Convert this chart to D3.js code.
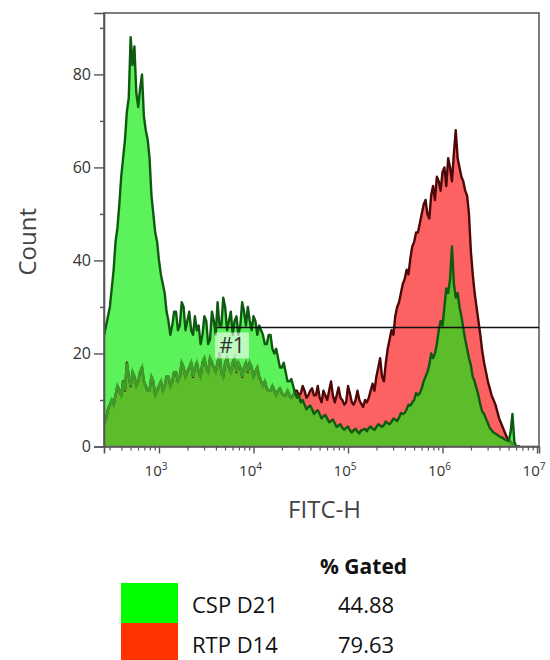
<!DOCTYPE html>
<html><head><meta charset="utf-8">
<script src="https://cdn.jsdelivr.net/npm/d3@7"></script>
<style>body{margin:0;background:#fff}svg{display:block}</style>
</head><body>
<svg id="c" width="550" height="660"></svg>
<script>
// channel positions (log10 of FITC-H), 0.02 decade apart
const logChannels = [
 2.42,2.44,2.46,2.48,2.50,2.52,2.54,2.56,2.58,2.60,
 2.62,2.64,2.66,2.68,2.70,2.72,2.74,2.76,2.78,2.80,
 2.82,2.84,2.86,2.88,2.90,2.92,2.94,2.96,2.98,3.00,
 3.02,3.04,3.06,3.08,3.10,3.12,3.14,3.16,3.18,3.20,
 3.22,3.24,3.26,3.28,3.30,3.32,3.34,3.36,3.38,3.40,
 3.42,3.44,3.46,3.48,3.50,3.52,3.54,3.56,3.58,3.60,
 3.62,3.64,3.66,3.68,3.70,3.72,3.74,3.76,3.78,3.80,
 3.82,3.84,3.86,3.88,3.90,3.92,3.94,3.96,3.98,4.00,
 4.02,4.04,4.06,4.08,4.10,4.12,4.14,4.16,4.18,4.20,
 4.22,4.24,4.26,4.28,4.30,4.32,4.34,4.36,4.38,4.40,
 4.42,4.44,4.46,4.48,4.50,4.52,4.54,4.56,4.58,4.60,
 4.62,4.64,4.66,4.68,4.70,4.72,4.74,4.76,4.78,4.80,
 4.82,4.84,4.86,4.88,4.90,4.92,4.94,4.96,4.98,5.00,
 5.02,5.04,5.06,5.08,5.10,5.12,5.14,5.16,5.18,5.20,
 5.22,5.24,5.26,5.28,5.30,5.32,5.34,5.36,5.38,5.40,
 5.42,5.44,5.46,5.48,5.50,5.52,5.54,5.56,5.58,5.60,
 5.62,5.64,5.66,5.68,5.70,5.72,5.74,5.76,5.78,5.80,
 5.82,5.84,5.86,5.88,5.90,5.92,5.94,5.96,5.98,6.00,
 6.02,6.04,6.06,6.08,6.10,6.12,6.14,6.16,6.18,6.20,
 6.22,6.24,6.26,6.28,6.30,6.32,6.34,6.36,6.38,6.40,
 6.42,6.44,6.46,6.48,6.50,6.52,6.54,6.56,6.58,6.60,
 6.62,6.64,6.66,6.68,6.70,6.72,6.74,6.76,6.78,6.80,
 6.82];
// CSP D21 counts
const cspD21 = [
 24,26,28,30,34,38,44,47,52,58,
 62,66,72,75,88,82,86,76,73,77,
 80,71,68,66,62,54,50,46,44,40,
 37,35,33,29,27,24,26,29,29,25,
 26,31,30,25,27,29,25,24,28,25,
 26,22,24,28,27,22,23,29,27,24,
 31,26,26,32,30,25,27,29,24,27,
 28,24,26,31,29,26,30,27,25,28,
 27,24,26,25,24,22,22,24,24,21,
 20,21,19,17,17,18,16,14,14,14.5,
 13,11.5,10.5,11,9.5,10,9,8,8.5,8.8,
 8,7,7.5,7.8,7,6,6.5,6.8,6,5.2,
 5.5,5.8,5,4.2,4.5,4.8,4,3.6,4,4.3,
 3.5,3,3.5,3.8,3.2,2.8,3.5,3.6,3.8,3.3,
 4,4.3,3.8,3.6,4.2,4.8,4.5,4.2,4.6,5.4,
 5,4.8,5.3,6,5.8,5.5,6.2,7.2,7,7.2,
 8,9,8.8,9.5,10,11.5,11,11.5,12.5,14,
 15,16,17.5,20,19,20,22,25,27,26,
 30,34,33,36,43,35,32,33,30,28,
 25.5,23,21,19,17.5,15,14,12.5,11,9,
 7.5,7,6,5,4,3.5,3,2.8,2.5,2.2,
 2,1.8,1.5,1.3,1.2,3,7,1,0,0,
 0];
// RTP D14 counts
const rtpD14 = [
 5,6,8,9,10,9,11,13,12,11,
 14,12,18,15,13,16,15,13,14,16,
 17,14,13,12,12,15,14,11,12,13,
 14,12,13,15,15,13,14,16,16,14,
 15,18,17,15,16,17,18,15,17,18,
 16,15,18,19,17,16,19,18,17,16,
 18,20,16,15,18,19,17,16,18,19,
 16,18,17,15,17,18,16,18,17,15,
 16,17,15,14,13,14,12.5,12,12,13,
 12,11,12,12.5,11.5,11,11,12,11,10.5,
 11,12,12,11,11.4,13,12,10.5,11,12,
 12.5,11,11,13,10.5,9.5,12,11,10,12,
 14,11,9.5,11,12.7,10.5,10,9,9.5,13,
 11.4,9.5,9,10,12,10,9.2,8.5,10,9.5,
 10.5,12,13.5,12,15,17,19,15,14,18,
 21,23,25,24,28,30,31,33,35,36,
 38,37,40.5,43,44,46,46,48,50,52,
 53,50,49,54,56,53,58,57,55,59,
 60,56,62,60,57,63,68,62,60,58,
 57,55,54,50,42,37,33,30,27,24,
 20.6,18,16,14,12.5,11,10,9,7.5,6,
 5,4,3,2,1.5,1,0.5,0,0,0,
 0];
const yMajorTicks = [0,20,40,60,80];
const yMinorTicks = [10,30,50,70,90];
const xDecades = [3,4,5,6,7];
const gateStartLog = 3.614;
const gateLevel = 25.6;
const gateName = "#1";
const legendNames = ["CSP D21","RTP D14"];
const legendGated = ["44.88","79.63"];
const legendHeader = "% Gated";

const svg = d3.select("#c");
const L = 104, R = 539, T = 13, B = 446.5;
const x = d3.scaleLog().domain([Math.pow(10,2.418), Math.pow(10,7.021)]).range([L,R]);
const y = d3.scaleLinear().domain([0,93.2]).range([B,T]);

const green = logChannels.map((l,i)=>({x:Math.pow(10,l), v:cspD21[i]}));
const red = logChannels.map((l,i)=>({x:Math.pow(10,l), v:rtpD14[i]}));
const overlap = logChannels.map((l,i)=>({x:Math.pow(10,l), v:Math.min(cspD21[i],rtpD14[i])}));

const area = d3.area().x(d=>x(d.x)).y0(y(0)).y1(d=>y(d.v));
const line = d3.line().x(d=>x(d.x)).y(d=>y(d.v));

const defs = svg.append("defs");
defs.append("clipPath").attr("id","plot").append("rect").attr("x",L).attr("y",T).attr("width",R-L).attr("height",B-T);
defs.append("clipPath").attr("id","greenClip").append("path").attr("d",area(green));

const g = svg.append("g").attr("clip-path","url(#plot)");
g.append("path").attr("d",area(green)).attr("fill","#5cf25c");
g.append("path").attr("d",area(red)).attr("fill","#fc6262");
g.append("path").attr("d",area(overlap)).attr("fill","#5cbd2b");
g.append("path").attr("d",line(red)).attr("fill","none").attr("stroke","#4e0808").attr("stroke-width",2.4).attr("stroke-linejoin","round");
g.append("g").attr("clip-path","url(#greenClip)").append("path").attr("d",line(red)).attr("fill","none").attr("stroke","#3e9e2a").attr("stroke-width",2.6);
g.append("path").attr("d",line(green)).attr("fill","none").attr("stroke","#0e5a10").attr("stroke-width",2.4).attr("stroke-linejoin","round");

// frame
svg.append("rect").attr("x",L).attr("y",T).attr("width",R-L).attr("height",B-T)
  .attr("fill","none").attr("stroke","#707070").attr("stroke-width",1.8);

// gate
const gx = x(Math.pow(10,gateStartLog));
svg.append("line").attr("x1",gx).attr("x2",R)
  .attr("y1",y(gateLevel)).attr("y2",y(gateLevel)).attr("stroke","#111").attr("stroke-width",1.4);
svg.append("rect").attr("x",gx-2).attr("y",y(gateLevel)+5).attr("width",34).attr("height",26).attr("rx",2)
  .attr("fill","rgba(255,255,255,0.6)");
svg.append("text").attr("x",gx+15).attr("y",y(gateLevel)+26).attr("text-anchor","middle")
  .attr("font-family","Open Sans").attr("font-size",21).attr("fill","#333").text(gateName);

// axes
const ya = svg.append("g").attr("transform",`translate(${L},0)`)
  .call(d3.axisLeft(y).tickValues(yMajorTicks).tickSize(10).tickPadding(3));
ya.select(".domain").attr("stroke","#555").attr("stroke-width",1.6);
ya.selectAll(".tick line").attr("stroke","#555").attr("stroke-width",1.4);
ya.selectAll(".tick text").attr("font-family","Open Sans").attr("font-size",16).attr("fill","#333");
svg.append("g").attr("transform",`translate(${L},0)`)
  .call(d3.axisLeft(y).tickValues(yMinorTicks).tickSize(4).tickFormat(""))
  .call(s=>{s.select(".domain").remove(); s.selectAll(".tick line").attr("stroke","#555").attr("stroke-width",1.4);});

const minor = [];
for (let e=2; e<=6; e++) for (let m=2; m<=9; m++) { const v=m*Math.pow(10,e); if (v>x.domain()[0] && v<x.domain()[1]) minor.push(v); }
const xa = svg.append("g").attr("transform",`translate(0,${B})`)
  .call(d3.axisBottom(x).tickValues(xDecades.map(e=>Math.pow(10,e))).tickSize(7).tickFormat(""));
xa.select(".domain").attr("stroke","#555").attr("stroke-width",1.6);
xa.selectAll(".tick line").attr("stroke","#555").attr("stroke-width",1.4);
svg.append("g").attr("transform",`translate(0,${B})`)
  .call(d3.axisBottom(x).tickValues(minor).tickSize(4).tickFormat(""))
  .call(s=>{s.select(".domain").remove(); s.selectAll(".tick line").attr("stroke","#555").attr("stroke-width",1.2);});
xDecades.forEach(e=>{
  const t = svg.append("text").attr("x",x(Math.pow(10,e))-3).attr("y",B+29).attr("text-anchor","middle")
    .attr("font-family","Open Sans").attr("font-size",15).attr("fill","#333");
  t.append("tspan").text("10");
  t.append("tspan").attr("dy",-6).attr("font-size",10).text(String(e));
});

svg.append("text").attr("x",(L+R)/2+3).attr("y",518).attr("text-anchor","middle")
  .attr("font-family","Open Sans").attr("font-size",24).attr("fill","#444").text("FITC-H");
svg.append("text").attr("transform",`translate(36,${(T+B)/2+12}) rotate(-90)`).attr("text-anchor","middle")
  .attr("font-family","Open Sans").attr("font-size",24).attr("fill","#444").text("Count");

// legend
const legendFills = ["#00ff00","#ff3300"];
svg.append("text").attr("x",320).attr("y",574).attr("font-family","Open Sans").attr("font-weight","bold")
  .attr("font-size",21).attr("fill","#111").text(legendHeader);
legendNames.forEach((n,i)=>{
  const top = 583 + i*40;
  svg.append("rect").attr("x",121).attr("y",top).attr("width",57).attr("height",40).attr("fill",legendFills[i]);
  svg.append("text").attr("x",192).attr("y",top+30).attr("font-family","Open Sans").attr("font-size",22).attr("fill","#111").text(n);
  svg.append("text").attr("x",338).attr("y",top+30).attr("font-family","Open Sans").attr("font-size",22).attr("fill","#111").text(legendGated[i]);
});
</script>
</body></html>
